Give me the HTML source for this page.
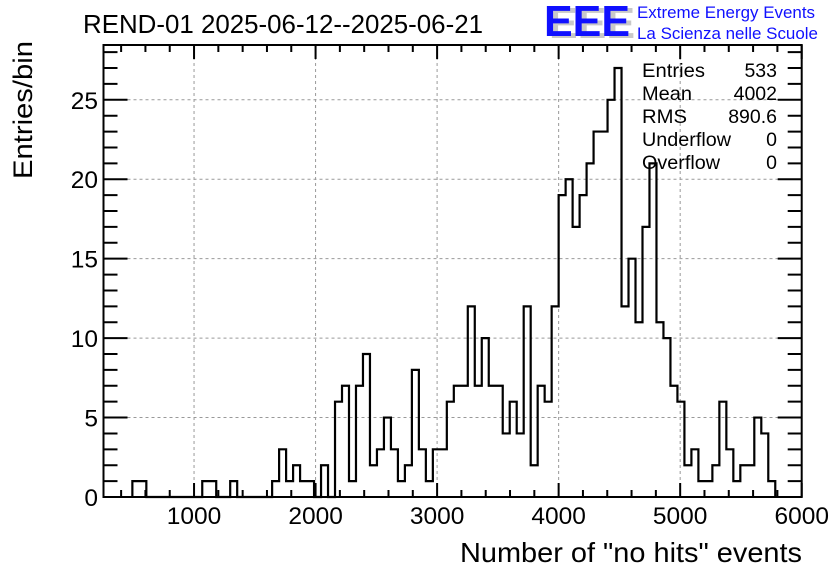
<!DOCTYPE html>
<html><head><meta charset="utf-8"><style>
body{margin:0;background:#fff;}
svg{display:block;font-family:"Liberation Sans",sans-serif;}
</style></head><body>
<svg id="c" width="836" height="572" viewBox="0 0 836 572">
<rect width="836" height="572" fill="#fff"/>
<text x="83" y="33" font-size="25.5" textLength="400" lengthAdjust="spacingAndGlyphs">REND-01 2025-06-12--2025-06-21</text>
<g>
<text x="549" y="38" font-size="44" font-weight="bold" fill="#c8c8c8" textLength="86" lengthAdjust="spacingAndGlyphs">EEE</text>
<text x="544" y="36" font-size="44" font-weight="bold" fill="#1010ff" textLength="86" lengthAdjust="spacingAndGlyphs">EEE</text>
<text x="637" y="18" font-size="16.5" fill="#1010ff" textLength="178" lengthAdjust="spacingAndGlyphs">Extreme Energy Events</text>
<text x="637" y="39" font-size="16.5" fill="#1010ff" textLength="181" lengthAdjust="spacingAndGlyphs">La Scienza nelle Scuole</text>
</g>
<g id="grid"></g>
<g id="ticks"></g>
<path id="hist" fill="none" stroke="#000" stroke-width="2.2"/>
<rect x="103.5" y="45" width="698.2" height="452" fill="none" stroke="#000" stroke-width="2"/>
<g id="labels" font-size="24.5"></g>
<text transform="translate(32,110) rotate(-90)" text-anchor="middle" font-size="27" textLength="138" lengthAdjust="spacingAndGlyphs">Entries/bin</text>
<text x="460" y="562" font-size="27.5" textLength="342" lengthAdjust="spacingAndGlyphs">Number of "no hits" events</text>
<g font-size="19.5">
<text x="642" y="77" textLength="63" lengthAdjust="spacingAndGlyphs">Entries</text><text x="777" y="77" text-anchor="end">533</text>
<text x="642" y="100" textLength="50" lengthAdjust="spacingAndGlyphs">Mean</text><text x="777" y="100" text-anchor="end">4002</text>
<text x="642" y="123" textLength="45" lengthAdjust="spacingAndGlyphs">RMS</text><text x="777" y="123" text-anchor="end">890.6</text>
<text x="642" y="146" textLength="89" lengthAdjust="spacingAndGlyphs">Underflow</text><text x="777" y="146" text-anchor="end">0</text>
<text x="642" y="169" textLength="78" lengthAdjust="spacingAndGlyphs">Overflow</text><text x="777" y="169" text-anchor="end">0</text>
</g>
</svg>
<script>
const binStart = 492.5;
const binWidth = 57.5;
const counts = [1,1,0,0,0,0,0,0,0,0,1,1,0,0,1,0,0,0,0,0,1,3,1,2,1,1,0,2,0,6,7,1,7,9,2,3,5,3,1,2,8,3,1,3,3,6,7,7,12,7,10,7,7,4,6,4,12,2,7,6,12,
19,20,17,19,21,23,23,25,27,12,15,11,17,21,11,10,7,6,2,3,1,1,2,6,3,1,2,2,5,4,1];
const xTicks = [1000,2000,3000,4000,5000,6000];
const yTicks = [0,5,10,15,20,25];
const xMin = 255, xMax = 6000, yMax = 28.45;
const L = 103.5, R = 801.7, T = 45, B = 497;
const NS = 'http://www.w3.org/2000/svg';
function sx(v){return L + (v - xMin) / (xMax - xMin) * (R - L);}
function sy(v){return B - v / yMax * (B - T);}
function mk(tag, attrs, parent){const e=document.createElementNS(NS,tag);for(const k in attrs)e.setAttribute(k,attrs[k]);parent.appendChild(e);return e;}
const grid=document.getElementById('grid'), ticks=document.getElementById('ticks'), labels=document.getElementById('labels');
xTicks.forEach(t=>{
  const x=sx(t);
  const g=mk('line',{x1:x,x2:x,y1:T,y2:B,stroke:'#999','stroke-dasharray':'3,3','stroke-width':1},grid);
  
  
  const lb=mk('text',{x:x,y:524,'text-anchor':'middle'},labels);
  lb.textContent=t;
  
  
});
yTicks.forEach(t=>{
  const y=sy(t);
  if(t>0){
    const g=mk('line',{x1:L,x2:R,y1:y,y2:y,stroke:'#999','stroke-dasharray':'3,3','stroke-width':1},grid);
    
    
  }
  const lb=mk('text',{x:98,y:y+9,'text-anchor':'end'},labels);
  lb.textContent=t;
  
  
});
let d='';
for(let v=400; v<=xMax; v+=200){
  const x=sx(v); const len=(v%1000===0)?14:7;
  d+=`M${x},${B}V${B-len}M${x},${T}V${T+len}`;
}
for(let v=0; v<=28; v++){
  const y=sy(v); const len=(v%5===0)?24:14;
  d+=`M${L},${y}H${L+len}M${R},${y}H${R-len}`;
}
const tk=mk('path',{d:d,stroke:'#000','stroke-width':2,fill:'none'},ticks);


let p=`M${sx(binStart)},${sy(0)}`;
counts.forEach((c,i)=>{
  const x1=sx(binStart+(i+1)*binWidth);
  p+=`V${sy(c)}H${x1}`;
});
p+=`V${sy(0)}`;
document.getElementById('hist').setAttribute('d',p);
</script>
</body></html>
